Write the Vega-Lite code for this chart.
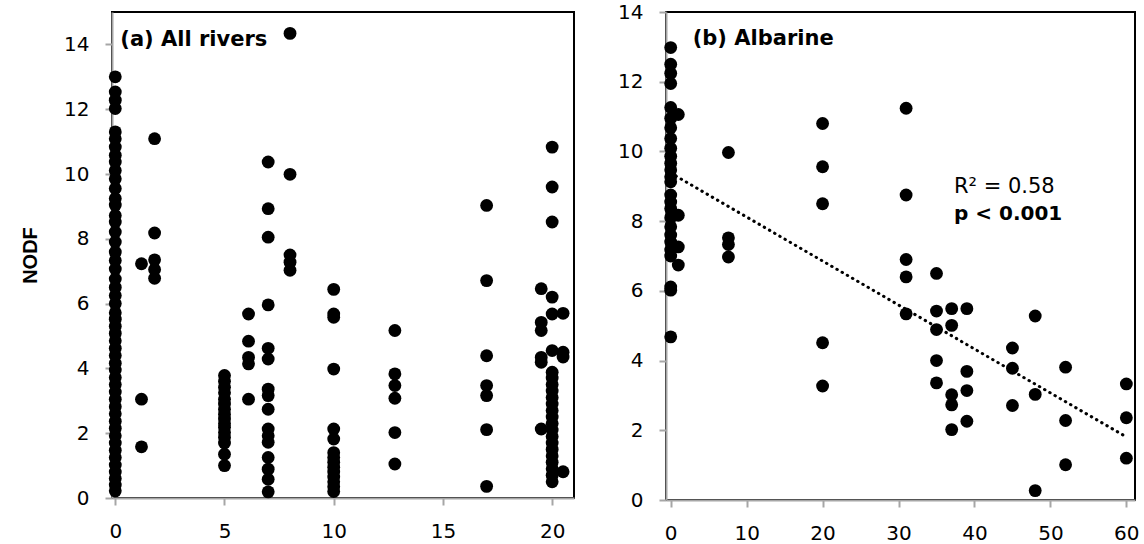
{
  "$schema": "https://vega.github.io/schema/vega-lite/v6.json",
  "background": "white",
  "padding": {"left": 19, "top": 1, "right": 0, "bottom": 0},
  "spacing": 41,
  "datasets": {
    "rivers": [
      {"x": 0, "nodf": 13.0}, {"x": 0, "nodf": 12.53}, {"x": 0, "nodf": 12.28}, {"x": 0, "nodf": 12.02},
      {"x": 0, "nodf": 11.3}, {"x": 0, "nodf": 11.09}, {"x": 0, "nodf": 10.83}, {"x": 0, "nodf": 10.58},
      {"x": 0, "nodf": 10.37}, {"x": 0, "nodf": 10.11}, {"x": 0, "nodf": 9.85}, {"x": 0, "nodf": 9.55},
      {"x": 0, "nodf": 9.24}, {"x": 0, "nodf": 9.04}, {"x": 0, "nodf": 8.72}, {"x": 0, "nodf": 8.52},
      {"x": 0, "nodf": 8.21}, {"x": 0, "nodf": 7.9}, {"x": 0, "nodf": 7.59}, {"x": 0, "nodf": 7.33},
      {"x": 0, "nodf": 7.07}, {"x": 0, "nodf": 6.76}, {"x": 0, "nodf": 6.5}, {"x": 0, "nodf": 6.25},
      {"x": 0, "nodf": 6.0}, {"x": 0, "nodf": 5.72}, {"x": 0, "nodf": 5.52}, {"x": 0, "nodf": 5.3},
      {"x": 0, "nodf": 5.08}, {"x": 0, "nodf": 4.85}, {"x": 0, "nodf": 4.62}, {"x": 0, "nodf": 4.4},
      {"x": 0, "nodf": 4.16}, {"x": 0, "nodf": 3.95}, {"x": 0, "nodf": 3.72}, {"x": 0, "nodf": 3.5},
      {"x": 0, "nodf": 3.27}, {"x": 0, "nodf": 3.05}, {"x": 0, "nodf": 2.82}, {"x": 0, "nodf": 2.6},
      {"x": 0, "nodf": 2.37}, {"x": 0, "nodf": 2.15}, {"x": 0, "nodf": 1.92}, {"x": 0, "nodf": 1.7},
      {"x": 0, "nodf": 1.47}, {"x": 0, "nodf": 1.25}, {"x": 0, "nodf": 1.02}, {"x": 0, "nodf": 0.8},
      {"x": 0, "nodf": 0.6}, {"x": 0, "nodf": 0.4}, {"x": 0, "nodf": 0.22},
      {"x": 1.2, "nodf": 7.23}, {"x": 1.2, "nodf": 3.05}, {"x": 1.2, "nodf": 1.58},
      {"x": 1.8, "nodf": 11.09}, {"x": 1.8, "nodf": 8.18}, {"x": 1.8, "nodf": 7.35}, {"x": 1.8, "nodf": 7.05}, {"x": 1.8, "nodf": 6.78},
      {"x": 5, "nodf": 3.78}, {"x": 5, "nodf": 3.6}, {"x": 5, "nodf": 3.42}, {"x": 5, "nodf": 3.25},
      {"x": 5, "nodf": 3.05}, {"x": 5, "nodf": 2.9}, {"x": 5, "nodf": 2.74}, {"x": 5, "nodf": 2.58},
      {"x": 5, "nodf": 2.44}, {"x": 5, "nodf": 2.3}, {"x": 5, "nodf": 2.18}, {"x": 5, "nodf": 2.02},
      {"x": 5, "nodf": 1.87}, {"x": 5, "nodf": 1.7}, {"x": 5, "nodf": 1.35}, {"x": 5, "nodf": 1.0},
      {"x": 6.1, "nodf": 5.68}, {"x": 6.1, "nodf": 4.84}, {"x": 6.1, "nodf": 4.34}, {"x": 6.1, "nodf": 4.14}, {"x": 6.1, "nodf": 3.05},
      {"x": 7, "nodf": 10.37}, {"x": 7, "nodf": 8.93}, {"x": 7, "nodf": 8.05}, {"x": 7, "nodf": 5.96},
      {"x": 7, "nodf": 4.62}, {"x": 7, "nodf": 4.29}, {"x": 7, "nodf": 3.36}, {"x": 7, "nodf": 3.16},
      {"x": 7, "nodf": 2.74}, {"x": 7, "nodf": 2.13}, {"x": 7, "nodf": 1.92}, {"x": 7, "nodf": 1.72},
      {"x": 7, "nodf": 1.25}, {"x": 7, "nodf": 0.89}, {"x": 7, "nodf": 0.58}, {"x": 7, "nodf": 0.19},
      {"x": 8, "nodf": 14.34}, {"x": 8, "nodf": 9.99}, {"x": 8, "nodf": 7.5}, {"x": 8, "nodf": 7.28}, {"x": 8, "nodf": 7.03},
      {"x": 10, "nodf": 6.44}, {"x": 10, "nodf": 5.68}, {"x": 10, "nodf": 5.58}, {"x": 10, "nodf": 3.98},
      {"x": 10, "nodf": 2.13}, {"x": 10, "nodf": 1.82}, {"x": 10, "nodf": 1.4}, {"x": 10, "nodf": 1.25},
      {"x": 10, "nodf": 1.1}, {"x": 10, "nodf": 0.95}, {"x": 10, "nodf": 0.8}, {"x": 10, "nodf": 0.65},
      {"x": 10, "nodf": 0.5}, {"x": 10, "nodf": 0.35}, {"x": 10, "nodf": 0.2},
      {"x": 12.8, "nodf": 5.17}, {"x": 12.8, "nodf": 3.83}, {"x": 12.8, "nodf": 3.47}, {"x": 12.8, "nodf": 3.08}, {"x": 12.8, "nodf": 2.02}, {"x": 12.8, "nodf": 1.05},
      {"x": 17, "nodf": 9.03}, {"x": 17, "nodf": 6.71}, {"x": 17, "nodf": 4.39}, {"x": 17, "nodf": 3.47}, {"x": 17, "nodf": 3.16}, {"x": 17, "nodf": 2.11}, {"x": 17, "nodf": 0.36},
      {"x": 19.5, "nodf": 6.46}, {"x": 19.5, "nodf": 5.42}, {"x": 19.5, "nodf": 5.17}, {"x": 19.5, "nodf": 4.34}, {"x": 19.5, "nodf": 4.19}, {"x": 19.5, "nodf": 2.13},
      {"x": 20, "nodf": 10.83}, {"x": 20, "nodf": 9.6}, {"x": 20, "nodf": 8.52}, {"x": 20, "nodf": 6.2},
      {"x": 20, "nodf": 5.68}, {"x": 20, "nodf": 4.55}, {"x": 20, "nodf": 3.88}, {"x": 20, "nodf": 3.7},
      {"x": 20, "nodf": 3.5}, {"x": 20, "nodf": 3.3}, {"x": 20, "nodf": 3.1}, {"x": 20, "nodf": 2.9},
      {"x": 20, "nodf": 2.7}, {"x": 20, "nodf": 2.5}, {"x": 20, "nodf": 2.3}, {"x": 20, "nodf": 2.1},
      {"x": 20, "nodf": 1.9}, {"x": 20, "nodf": 1.7}, {"x": 20, "nodf": 1.5}, {"x": 20, "nodf": 1.3},
      {"x": 20, "nodf": 1.1}, {"x": 20, "nodf": 0.9}, {"x": 20, "nodf": 0.7}, {"x": 20, "nodf": 0.5},
      {"x": 20.5, "nodf": 5.7}, {"x": 20.5, "nodf": 4.5}, {"x": 20.5, "nodf": 4.35}, {"x": 20.5, "nodf": 0.81}
    ],
    "albarine": [
      {"x": 0, "nodf": 12.98}, {"x": 0, "nodf": 12.5}, {"x": 0, "nodf": 12.24}, {"x": 0, "nodf": 11.95},
      {"x": 0, "nodf": 11.26}, {"x": 0, "nodf": 10.95}, {"x": 0, "nodf": 10.68}, {"x": 0, "nodf": 10.37},
      {"x": 0, "nodf": 10.09}, {"x": 0, "nodf": 9.86}, {"x": 0, "nodf": 9.66}, {"x": 0, "nodf": 9.47},
      {"x": 0, "nodf": 9.27}, {"x": 0, "nodf": 9.13}, {"x": 0, "nodf": 8.75}, {"x": 0, "nodf": 8.55},
      {"x": 0, "nodf": 8.36}, {"x": 0, "nodf": 8.1}, {"x": 0, "nodf": 7.84}, {"x": 0, "nodf": 7.6},
      {"x": 0, "nodf": 7.4}, {"x": 0, "nodf": 7.17}, {"x": 0, "nodf": 7.0}, {"x": 0, "nodf": 6.11},
      {"x": 0, "nodf": 6.02}, {"x": 0, "nodf": 4.68},
      {"x": 1, "nodf": 11.06}, {"x": 1, "nodf": 8.17}, {"x": 1, "nodf": 7.26}, {"x": 1, "nodf": 6.74},
      {"x": 7.6, "nodf": 9.97}, {"x": 7.6, "nodf": 7.52}, {"x": 7.6, "nodf": 7.33}, {"x": 7.6, "nodf": 6.97},
      {"x": 20, "nodf": 10.8}, {"x": 20, "nodf": 9.56}, {"x": 20, "nodf": 8.5}, {"x": 20, "nodf": 4.51}, {"x": 20, "nodf": 3.27},
      {"x": 31, "nodf": 11.24}, {"x": 31, "nodf": 8.75}, {"x": 31, "nodf": 6.9}, {"x": 31, "nodf": 6.4}, {"x": 31, "nodf": 5.34},
      {"x": 35, "nodf": 6.5}, {"x": 35, "nodf": 5.42}, {"x": 35, "nodf": 4.89}, {"x": 35, "nodf": 4.0}, {"x": 35, "nodf": 3.36},
      {"x": 37, "nodf": 5.49}, {"x": 37, "nodf": 5.01}, {"x": 37, "nodf": 3.02}, {"x": 37, "nodf": 2.73}, {"x": 37, "nodf": 2.02},
      {"x": 39, "nodf": 5.49}, {"x": 39, "nodf": 3.69}, {"x": 39, "nodf": 3.14}, {"x": 39, "nodf": 2.26},
      {"x": 45, "nodf": 4.36}, {"x": 45, "nodf": 3.78}, {"x": 45, "nodf": 2.71},
      {"x": 48, "nodf": 5.28}, {"x": 48, "nodf": 3.03}, {"x": 48, "nodf": 0.27},
      {"x": 52, "nodf": 3.81}, {"x": 52, "nodf": 2.28}, {"x": 52, "nodf": 1.01},
      {"x": 60, "nodf": 3.33}, {"x": 60, "nodf": 2.36}, {"x": 60, "nodf": 1.2}
    ],
    "albarineFit": [
      {"x": 0, "nodf": 9.38},
      {"x": 60, "nodf": 1.81}
    ]
  },
  "hconcat": [
    {
      "width": 462,
      "height": 486,
      "layer": [
        {
          "data": {"name": "rivers"},
          "mark": {"type": "circle", "size": 165, "opacity": 1, "color": "#000"},
          "encoding": {
            "x": {
              "field": "x", "type": "quantitative",
              "scale": {"domain": [-0.15, 21.0], "nice": false, "zero": false},
              "axis": {"values": [0, 5, 10, 15, 20], "title": null}
            },
            "y": {
              "field": "nodf", "type": "quantitative",
              "scale": {"domain": [0, 15], "nice": false},
              "axis": {"values": [0, 2, 4, 6, 8, 10, 12, 14], "title": "NODF"}
            }
          }
        },
        {
          "data": {"values": [{}]},
          "mark": {"type": "text", "text": "(a) All rivers", "align": "left", "baseline": "middle", "font": "DejaVu Sans", "fontWeight": "bold", "fontSize": 21, "color": "#000"},
          "encoding": {"x": {"datum": 0.23}, "y": {"datum": 14.14}}
        }
      ]
    },
    {
      "width": 469,
      "height": 488,
      "layer": [
        {
          "data": {"name": "albarineFit"},
          "mark": {"type": "line", "color": "#000", "strokeWidth": 3, "strokeDash": [0.5, 5.5], "strokeCap": "round"},
          "encoding": {
            "x": {
              "field": "x", "type": "quantitative",
              "scale": {"domain": [-0.62, 61.14], "nice": false, "zero": false},
              "axis": {"values": [0, 10, 20, 30, 40, 50, 60], "title": null}
            },
            "y": {
              "field": "nodf", "type": "quantitative",
              "scale": {"domain": [0, 14], "nice": false},
              "axis": {"values": [0, 2, 4, 6, 8, 10, 12, 14], "title": null}
            }
          }
        },
        {
          "data": {"name": "albarine"},
          "mark": {"type": "circle", "size": 165, "opacity": 1, "color": "#000"},
          "encoding": {
            "x": {"field": "x", "type": "quantitative"},
            "y": {"field": "nodf", "type": "quantitative"}
          }
        },
        {
          "data": {"values": [{}]},
          "mark": {"type": "text", "text": "(b) Albarine", "align": "left", "baseline": "middle", "font": "DejaVu Sans", "fontWeight": "bold", "fontSize": 21, "color": "#000"},
          "encoding": {"x": {"datum": 2.9}, "y": {"datum": 13.23}}
        },
        {
          "data": {"values": [{}]},
          "mark": {"type": "text", "text": "R² = 0.58", "align": "left", "baseline": "middle", "font": "DejaVu Sans", "fontSize": 21, "color": "#000"},
          "encoding": {"x": {"datum": 37.3}, "y": {"datum": 8.98}}
        },
        {
          "data": {"values": [{}]},
          "mark": {"type": "text", "text": "p < 0.001", "align": "left", "baseline": "middle", "font": "DejaVu Sans", "fontWeight": "bold", "fontSize": 20, "color": "#000"},
          "encoding": {"x": {"datum": 37.3}, "y": {"datum": 8.21}}
        }
      ]
    }
  ],
  "config": {
    "view": {"stroke": "#000", "strokeWidth": 2},
    "axis": {
      "grid": false,
      "domainColor": "#a6a6a6",
      "domainWidth": 2,
      "tickColor": "#a6a6a6",
      "tickWidth": 2,
      "tickSize": 7,
      "labelFont": "DejaVu Sans",
      "labelFontSize": 20,
      "labelColor": "#000",
      "labelFlush": false,
      "labelOverlap": false,
      "titleFont": "Liberation Sans",
      "titleFontSize": 20,
      "titleFontWeight": "bold",
      "titleColor": "#000"
    },
    "axisX": {"labelPadding": 16},
    "axisY": {"labelPadding": 16, "titlePadding": 23}
  }
}
